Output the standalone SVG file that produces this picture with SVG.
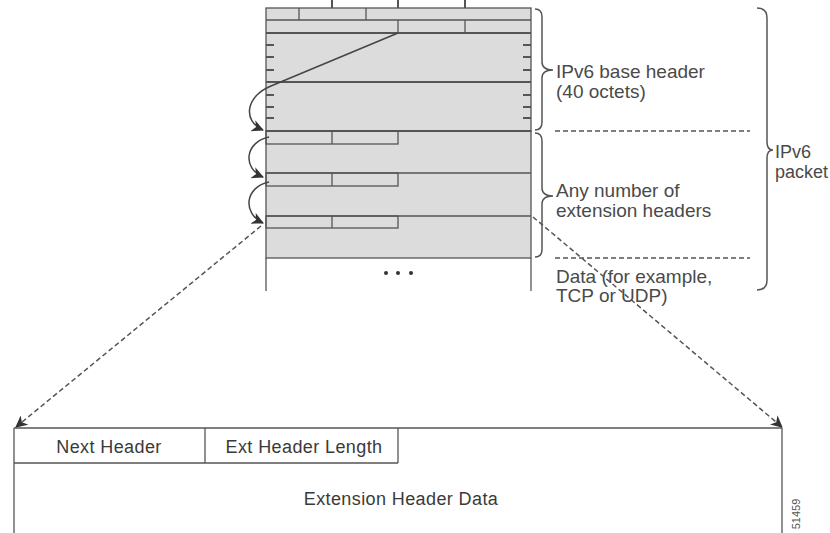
<svg xmlns="http://www.w3.org/2000/svg" width="830" height="533" viewBox="0 0 830 533">
<defs>
<marker id="ah" markerWidth="12" markerHeight="12" refX="11" refY="6" orient="auto" markerUnits="userSpaceOnUse">
<path d="M0,0 L12,6 L0,12 L3.5,6 Z" fill="#333"/>
</marker>
<style>
.ln{stroke:#555;stroke-width:1.3;fill:none}
.thk{stroke:#555;stroke-width:2;fill:none}
.tk{stroke:#555;stroke-width:2}
.gray{fill:#dcdcdc}
.brace{stroke:#555;stroke-width:1.5;fill:none}
.dash{stroke:#555;stroke-width:1.5;stroke-dasharray:5,3;fill:none}
.lbl{font-family:"Liberation Sans",Arial,sans-serif;font-size:19px;fill:#4a4a4a}
.bt{font-family:"Liberation Sans",Arial,sans-serif;font-size:18px;fill:#3a3a3a;letter-spacing:0.4px;text-anchor:middle}
.curve{stroke:#444;stroke-width:1.5;fill:none}
</style>
</defs>
<rect width="830" height="533" fill="#fff"/>

<g id="base-header">
<rect class="gray" x="266" y="8" width="265" height="123"/>
<line class="tk" x1="332" y1="0" x2="332" y2="8"/>
<line class="tk" x1="398" y1="0" x2="398" y2="8"/>
<line class="tk" x1="465" y1="0" x2="465" y2="8"/>
<rect class="ln" x="266" y="8" width="265" height="123"/>
<line class="ln" x1="266" y1="20" x2="531" y2="20"/>
<line class="ln" x1="299" y1="8" x2="299" y2="20"/>
<line class="ln" x1="366" y1="8" x2="366" y2="20"/>
<line class="ln" x1="398" y1="20" x2="398" y2="33"/>
<line class="ln" x1="465" y1="20" x2="465" y2="33"/>
<line class="thk" x1="266" y1="33" x2="531" y2="33"/>
<line class="thk" x1="266" y1="82" x2="531" y2="82"/>
<g class="tk">
<line x1="266" y1="45" x2="274" y2="45"/><line x1="266" y1="57" x2="274" y2="57"/><line x1="266" y1="70" x2="274" y2="70"/>
<line x1="266" y1="95" x2="274" y2="95"/><line x1="266" y1="107" x2="274" y2="107"/><line x1="266" y1="118" x2="274" y2="118"/>
<line x1="523" y1="45" x2="531" y2="45"/><line x1="523" y1="57" x2="531" y2="57"/><line x1="523" y1="70" x2="531" y2="70"/>
<line x1="523" y1="95" x2="531" y2="95"/><line x1="523" y1="107" x2="531" y2="107"/><line x1="523" y1="118" x2="531" y2="118"/>
</g>
</g>

<g id="extension-headers">
<rect class="gray" x="266" y="131" width="265" height="127"/>
<rect class="ln" x="266" y="131" width="265" height="127"/>
<line class="thk" x1="266" y1="131" x2="531" y2="131"/>
<rect class="ln" x="266" y="131" width="132" height="13"/>
<line class="ln" x1="332" y1="131" x2="332" y2="144"/>
<line class="ln" x1="266" y1="173" x2="531" y2="173"/>
<rect class="ln" x="266" y="173" width="132" height="13"/>
<line class="ln" x1="332" y1="173" x2="332" y2="186"/>
<line class="ln" x1="266" y1="216" x2="531" y2="216"/>
<rect class="ln" x="266" y="216" width="132" height="12"/>
<line class="ln" x1="332" y1="216" x2="332" y2="228"/>
</g>

<g id="data">
<line class="ln" x1="266" y1="258" x2="266" y2="291"/>
<line class="ln" x1="531" y1="258" x2="531" y2="291"/>
<circle cx="386" cy="273" r="2" fill="#333"/>
<circle cx="398" cy="273" r="2" fill="#333"/>
<circle cx="411" cy="273" r="2" fill="#333"/>
</g>

<g id="labels">
<path class="brace" d="M535,9 Q542,9 542,17 L542,62 Q542,70 553,70 Q542,70 542,78 L542,122 Q542,130 535,130"/>
<path class="brace" d="M535,133 Q542,133 542,141 L542,188 Q542,196 553,196 Q542,196 542,204 L542,249 Q542,257 535,257"/>
<path class="brace" d="M757,8 Q767,8 767,18 L767,142 Q767,150 773,150 Q767,150 767,158 L767,280 Q767,290 757,290"/>
<line class="dash" x1="555" y1="131" x2="750" y2="131"/>
<line class="dash" x1="555" y1="258" x2="750" y2="258"/>
<text class="lbl" x="556" y="78">IPv6 base header</text>
<text class="lbl" x="556" y="98">(40 octets)</text>
<text class="lbl" x="556" y="197">Any number of</text>
<text class="lbl" x="556" y="217">extension headers</text>
<text class="lbl" x="556" y="283">Data (for example,</text>
<text class="lbl" x="556" y="302">TCP or UDP)</text>
<text class="lbl" x="775" y="158" style="font-size:18px">IPv6</text>
<text class="lbl" x="775" y="178" style="font-size:18px">packet</text>
</g>

<g id="ext-header-format">
<line class="ln" x1="14" y1="428" x2="782" y2="428"/>
<line class="ln" x1="14" y1="428" x2="14" y2="533"/>
<line class="ln" x1="782" y1="428" x2="782" y2="533"/>
<line class="ln" x1="14" y1="463" x2="398" y2="463"/>
<line class="ln" x1="205" y1="428" x2="205" y2="463"/>
<line class="ln" x1="398" y1="428" x2="398" y2="463"/>
<text class="bt" x="109" y="453">Next Header</text>
<text class="bt" x="304" y="453">Ext Header Length</text>
<text class="bt" x="401" y="505">Extension Header Data</text>
<text x="800" y="514" transform="rotate(-90 800 514)" font-family="Liberation Sans, Arial, sans-serif" font-size="11" fill="#555" text-anchor="middle">51459</text>
</g>

<g id="connectors">
<path class="curve" d="M398,33 L271,86 C246,96 242,121 263,130" marker-end="url(#ah)"/>
<path class="curve" d="M269,137 C245,142 242,168 263,177" marker-end="url(#ah)"/>
<path class="curve" d="M269,182 C245,187 242,213 263,223" marker-end="url(#ah)"/>
<line class="dash" x1="261" y1="226" x2="16" y2="427" marker-end="url(#ah)"/>
<line class="dash" x1="533" y1="217" x2="782" y2="427" marker-end="url(#ah)"/>
</g>
</svg>
